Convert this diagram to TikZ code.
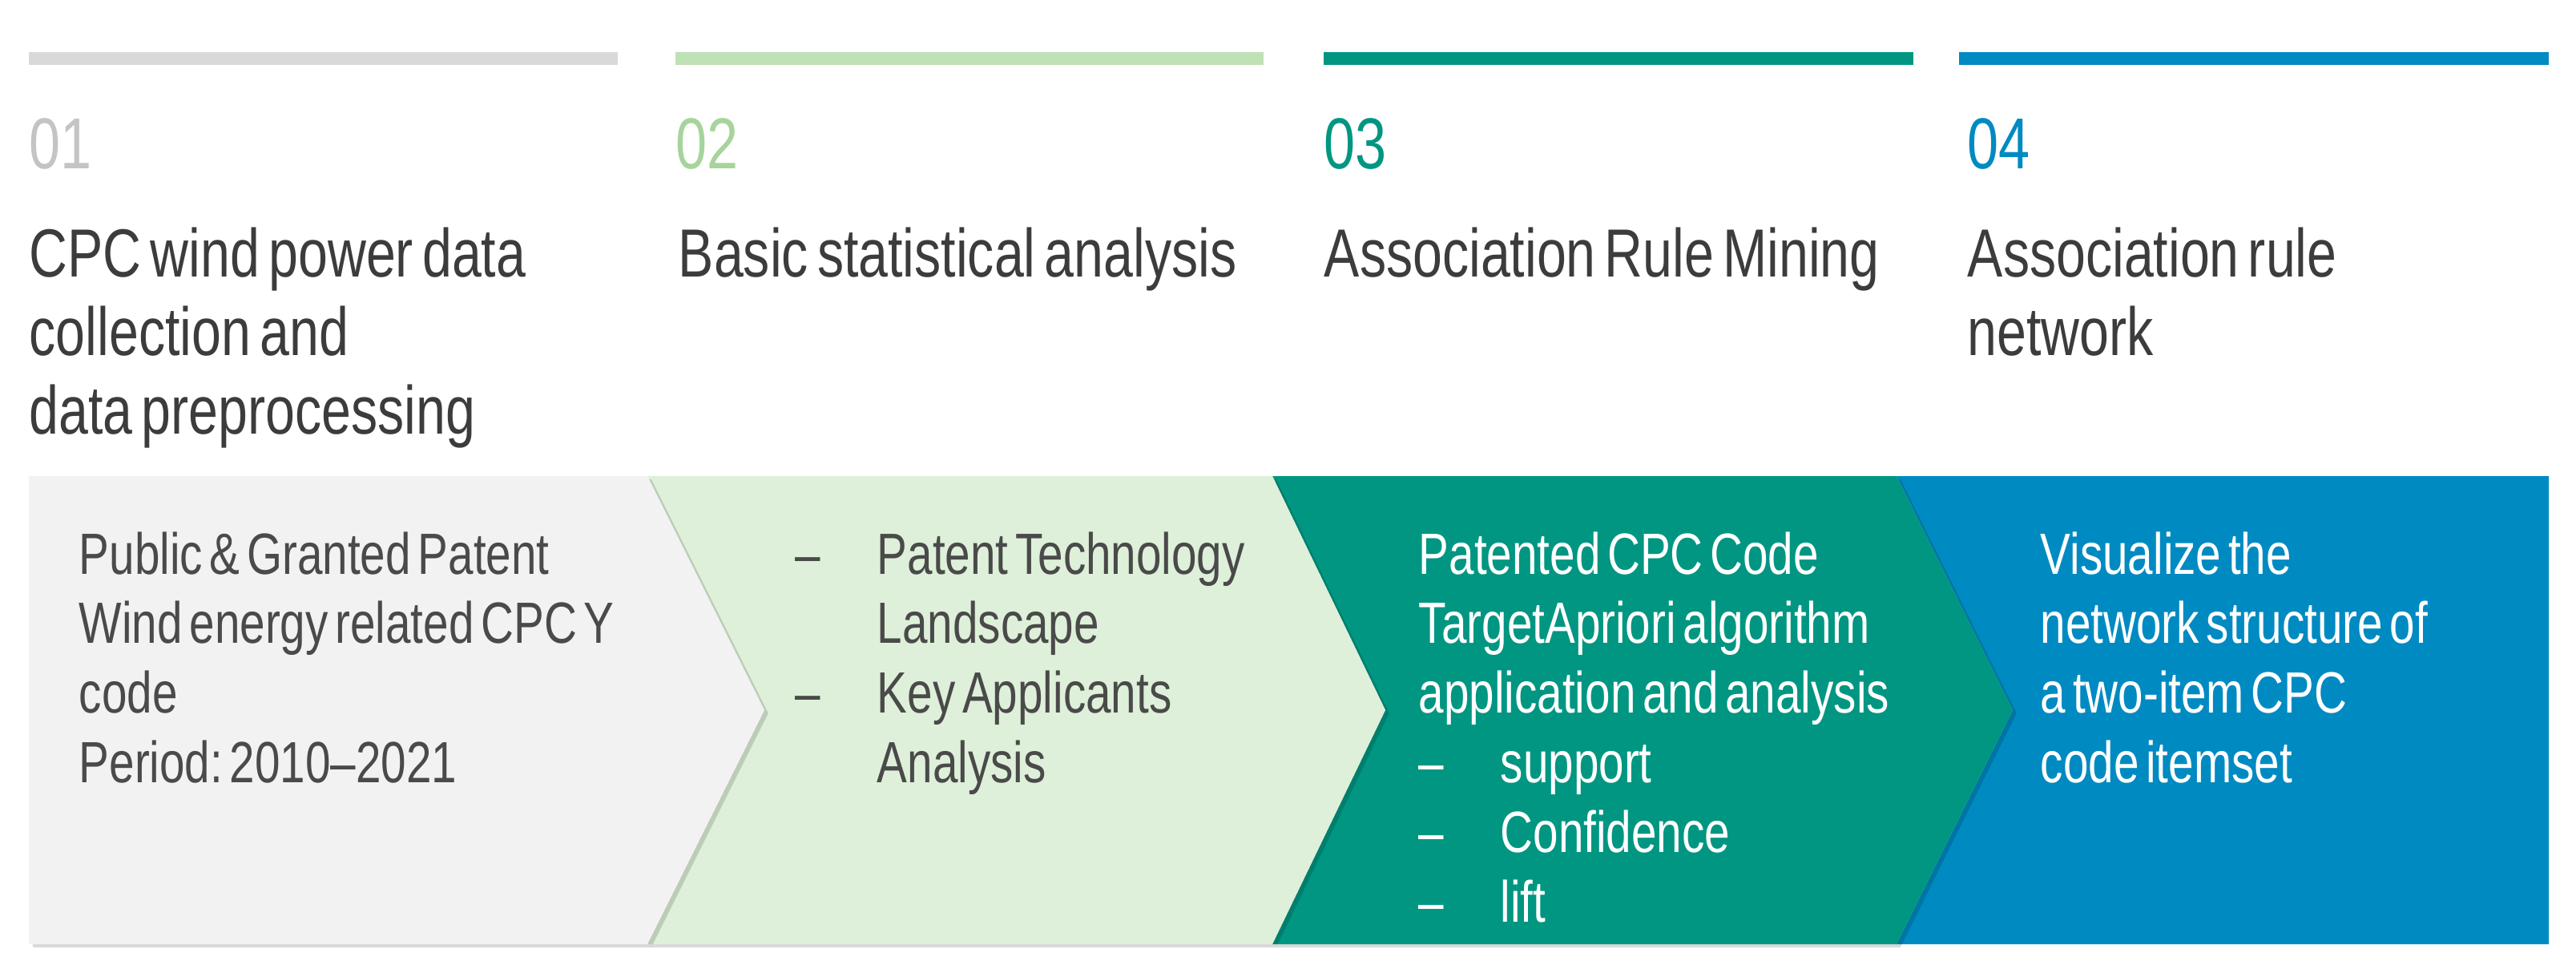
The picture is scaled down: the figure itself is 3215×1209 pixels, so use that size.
\documentclass[tikz,border=0pt]{standalone}
\usepackage{fontspec}
\setmainfont{Liberation Sans}[FakeStretch=0.78]
\usetikzlibrary{shadows}
\definecolor{cgray}{HTML}{D9D9D9}
\definecolor{cgreenbar}{HTML}{BFE1B6}
\definecolor{cteal}{HTML}{009682}
\definecolor{cblue}{HTML}{008AC2}
\definecolor{pgray}{HTML}{F2F2F2}
\definecolor{pgreen}{HTML}{DEF0D9}
\definecolor{numone}{HTML}{C4C4C4}
\definecolor{numtwo}{HTML}{A6D49C}
\definecolor{txt}{HTML}{3C3C3C}
\definecolor{btxt}{HTML}{4A4A4A}
\newcommand\dashitem{\makebox[25.5pt][l]{–}}
\newcommand\dashgap{\hspace*{25.5pt}}
\newcommand\tsp{\spaceskip=2.8pt plus 0.3pt minus 0.2pt\xspaceskip=2.8pt\relax}
\newcommand\bsp{\spaceskip=2.2pt plus 0.3pt minus 0.2pt\xspaceskip=2.2pt\relax}
\tikzset{
  numlabel/.style={font=\fontsize{22.5}{27}\selectfont, inner sep=0pt, anchor=base west},
  titlelabel/.style={font=\fontsize{21.25}{24.5}\selectfont, text=txt, text width=200pt, align=left, inner sep=0pt, anchor=base west},
  bodylabel/.style={font=\fontsize{18.15}{21.7}\selectfont, text width=190pt, align=left, inner sep=0pt, anchor=base west},
  panelshadow/.style={drop shadow={shadow xshift=1.2pt, shadow yshift=-1pt, opacity=0.15, fill=black}},
}
\begin{document}
\begin{tikzpicture}[x=0.25pt, y=-0.25pt]
\useasboundingbox (0,0) rectangle (3215,1209);
\fill[white] (0,0) rectangle (3215,1209);
% top bars
\fill[cgray] (36,65) rectangle (771,81);
\fill[cgreenbar] (843,65) rectangle (1577,81);
\fill[cteal] (1652,65) rectangle (2388,81);
\fill[cblue] (2445,65) rectangle (3181,81);
% numbers
\node[numlabel, text=numone] (n1) at (36,211) {01};
\node[numlabel, text=numtwo] (n2) at (843,211) {02};
\node[numlabel, text=cteal] (n3) at (1652,211) {03};
\node[numlabel, text=cblue] (n4) at (2455,211) {04};
% titles
\node[titlelabel] (t1) at (36,346) {\tsp CPC wind power data\\collection and\\data preprocessing};
\node[titlelabel] (t2) at (846,346) {\tsp Basic statistical analysis};
\node[titlelabel] (t3) at (1652,346) {\tsp Association Rule Mining};
\node[titlelabel] (t4) at (2455,346) {\tsp Association rule\\network};
% panels
\fill[cblue] (2367,594) -- (3181,594) -- (3181,1178) -- (2367,1178) -- (2512,886) -- cycle;
\fill[cteal, panelshadow] (1588,594) -- (2367,594) -- (2512,886) -- (2367,1178) -- (1588,1178) -- (1729,886) -- cycle;
\fill[pgreen, panelshadow] (808,594) -- (1588,594) -- (1729,886) -- (1588,1178) -- (808,1178) -- (954,886) -- cycle;
\fill[pgray, panelshadow] (36,594) -- (808,594) -- (954,886) -- (808,1178) -- (36,1178) -- cycle;
% panel texts
\node[bodylabel, text=btxt] (b1) at (98,716) {\bsp Public \& Granted Patent\\Wind energy related CPC Y\\code\\Period: 2010–2021};
\node[bodylabel, text=btxt] (b2) at (992,716) {\bsp\dashitem Patent Technology\\\dashgap Landscape\\\dashitem Key Applicants\\\dashgap Analysis};
\node[bodylabel, text=white] (b3) at (1770,716) {\bsp Patented CPC Code\\TargetApriori algorithm\\application and analysis\\\dashitem support\\\dashitem Confidence\\\dashitem lift};
\node[bodylabel, text=white, text width=150pt] (b4) at (2546,716) {\bsp Visualize the\\network structure of\\a two-item CPC\\code itemset};
\end{tikzpicture}
\end{document}
